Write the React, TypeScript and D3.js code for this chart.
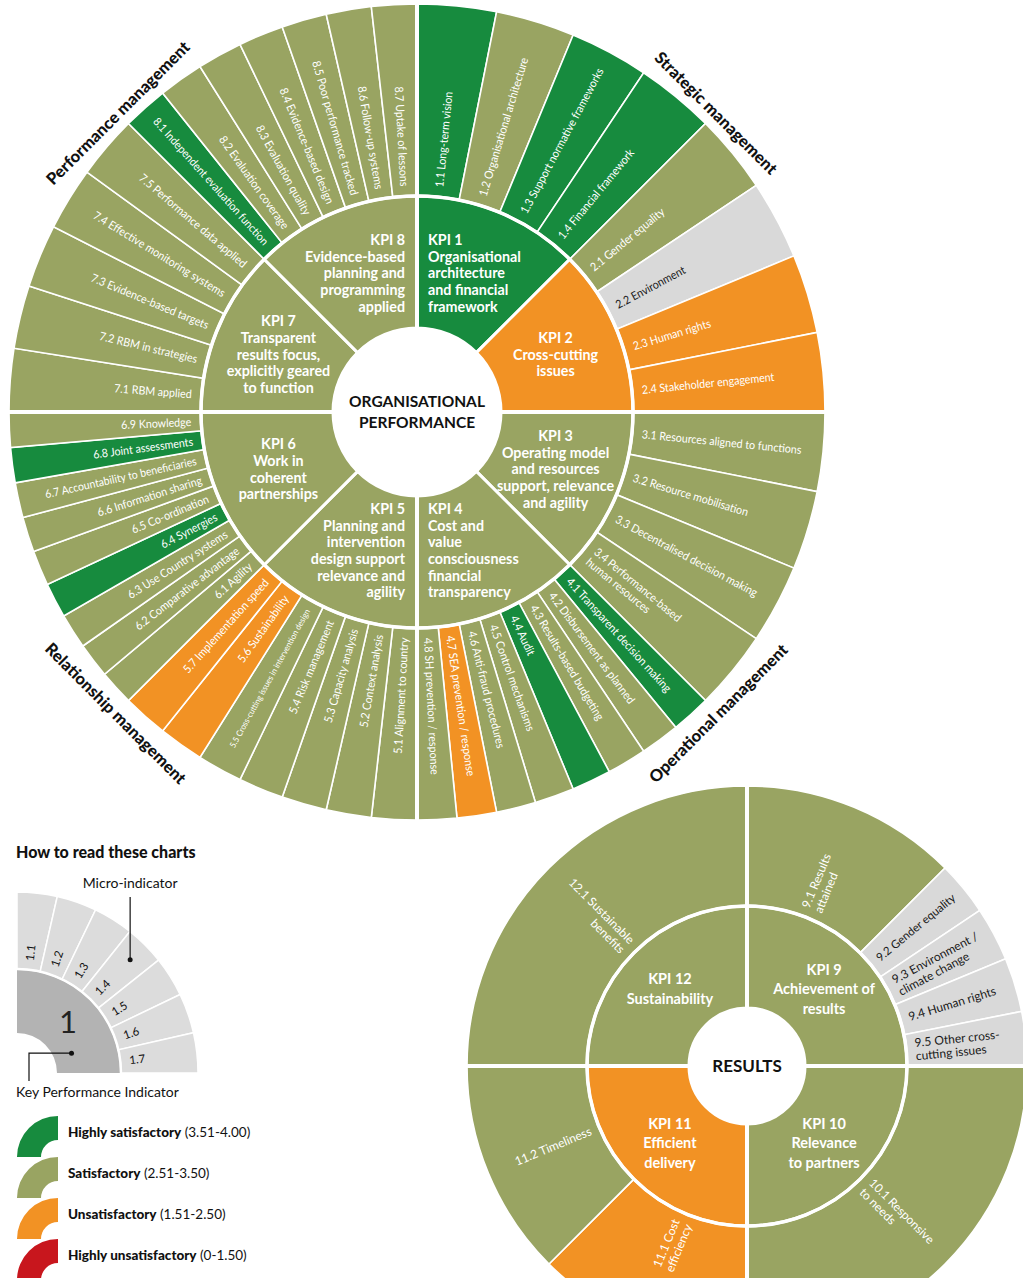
import React from 'react';
import * as d3 from 'd3';

// rating -> fill colour
const COLOR: Record<string, string> = {
  hs: '#178b3e',
  s: '#99a462',
  u: '#f29224',
  hu: '#c8161d',
  na: '#d9d9d9',
};

// ---- Organisational performance ----
const orgKpiIds = ['KPI 1', 'KPI 2', 'KPI 3', 'KPI 4', 'KPI 5', 'KPI 6', 'KPI 7', 'KPI 8'];
const orgKpiTitles = [
  ['Organisational', 'architecture', 'and financial', 'framework'],
  ['Cross-cutting', 'issues'],
  ['Operating model', 'and resources', 'support, relevance', 'and agility'],
  ['Cost and', 'value', 'consciousness', 'financial', 'transparency'],
  ['Planning and', 'intervention', 'design support', 'relevance and', 'agility'],
  ['Work in', 'coherent', 'partnerships'],
  ['Transparent', 'results focus,', 'explicitly geared', 'to function'],
  ['Evidence-based', 'planning and', 'programming', 'applied'],
];
const orgKpiRatings = ['hs', 'u', 's', 's', 's', 's', 's', 's'];
const orgMicroLabels = [
  ['1.1 Long-term vision', '1.2 Organisational architecture', '1.3 Support normative frameworks', '1.4 Financial framework'],
  ['2.1 Gender equality', '2.2 Environment', '2.3 Human rights', '2.4 Stakeholder engagement'],
  ['3.1 Resources aligned to functions', '3.2 Resource mobilisation', '3.3 Decentralised decision making', '3.4 Performance-based\nhuman resources'],
  ['4.1 Transparent decision making', '4.2 Disbursement as planned', '4.3 Results-based budgeting', '4.4 Audit',
    '4.5 Control mechanisms', '4.6 Anti-fraud procedures', '4.7 SEA prevention / response', '4.8 SH prevention / response'],
  ['5.1 Alignment to country', '5.2 Context analysis', '5.3 Capacity analysis', '5.4 Risk management',
    '5.5 Cross-cutting issues in intervention design', '5.6 Sustainability', '5.7 Implementation speed'],
  ['6.1 Agility', '6.2 Comparative advantage', '6.3 Use Country systems', '6.4 Synergies', '6.5 Co-ordination',
    '6.6 Information sharing', '6.7 Accountability to beneficiaries', '6.8 Joint assessments', '6.9 Knowledge'],
  ['7.1 RBM applied', '7.2 RBM in strategies', '7.3 Evidence-based targets', '7.4 Effective monitoring systems', '7.5 Performance data applied'],
  ['8.1 Independent evaluation function', '8.2 Evaluation coverage', '8.3 Evaluation quality', '8.4 Evidence-based design',
    '8.5 Poor performance tracked', '8.6 Follow-up systems', '8.7 Uptake of lessons'],
];
const orgMicroRatings = [
  ['hs', 's', 'hs', 'hs'],
  ['s', 'na', 'u', 'u'],
  ['s', 's', 's', 's'],
  ['hs', 's', 's', 'hs', 's', 's', 'u', 's'],
  ['s', 's', 's', 's', 's', 'u', 'u'],
  ['s', 's', 's', 'hs', 's', 's', 's', 'hs', 's'],
  ['s', 's', 's', 's', 's'],
  ['hs', 's', 's', 's', 's', 's', 's'],
];
const orgMicroWeights = orgMicroLabels.map(l => l.map(() => 1));
const orgAreas = ['Strategic management', 'Operational management', 'Relationship management', 'Performance management'];

// ---- Results ----
const resKpiIds = ['KPI 9', 'KPI 10', 'KPI 11', 'KPI 12'];
const resKpiTitles = [['Achievement of', 'results'], ['Relevance', 'to partners'], ['Efficient', 'delivery'], ['Sustainability']];
const resKpiRatings = ['s', 's', 'u', 's'];
const resMicroLabels = [
  ['9.1 Results\nattained', '9.2 Gender equality', '9.3 Environment /\nclimate change', '9.4 Human rights', '9.5 Other cross-\ncutting issues'],
  ['10.1 Responsive\nto needs'],
  ['11.1 Cost\nefficiency', '11.2 Timeliness'],
  ['12.1 Sustainable\nbenefits'],
];
const resMicroRatings = [['s', 'na', 'na', 'na', 'na'], ['s'], ['u', 's'], ['s']];
const resMicroWeights = [[4, 1, 1, 1, 1], [1], [1, 1], [1]];

// ---- Legend ----
const legendMicros = ['1.1', '1.2', '1.3', '1.4', '1.5', '1.6', '1.7'];
const legendNames = ['Highly satisfactory', 'Satisfactory', 'Unsatisfactory', 'Highly unsatisfactory'];
const legendRanges = ['(3.51-4.00)', '(2.51-3.50)', '(1.51-2.50)', '(0-1.50)'];
const legendRatings = ['hs', 's', 'u', 'hu'];

const FONT = "Lato, 'Open Sans', sans-serif";

const polar = (cx: number, cy: number, a: number, r: number): [number, number] =>
  [cx + r * Math.sin(a), cy - r * Math.cos(a)];

function Sunburst(p: any) {
  const { cx, cy, r0, r1, r2 } = p;
  const kpis = d3.pie<number>().sort(null).value(() => 1)(p.kpiIds.map(() => 1));
  const kpiArc = d3.arc<any>().innerRadius(r0).outerRadius(r1);
  const microArc = d3.arc<any>().innerRadius(r1).outerRadius(r2);
  const micros = kpis.map((k, i) =>
    d3.pie<number>().sort(null).value(d => d).startAngle(k.startAngle).endAngle(k.endAngle)(p.microWeights[i]));
  const pad = p.microPad;

  return (
    <g fontFamily={FONT}>
      <g transform={`translate(${cx},${cy})`}>
        {micros.map((ms, i) => ms.map((m, j) => (
          <path key={`m${i}-${j}`} d={microArc(m) as string} fill={COLOR[p.microRatings[i][j]]} stroke="#fff" strokeWidth={1.6} />
        )))}
        {kpis.map((k, i) => (
          <path key={`k${i}`} d={kpiArc(k) as string} fill={COLOR[p.kpiRatings[i]]} stroke="#fff" strokeWidth={3} />
        ))}
        <circle r={r1} fill="none" stroke="#fff" strokeWidth={3.5} />
      </g>
      {[0, 1, 2, 3].map(q => {
        const a = (q * Math.PI) / 2;
        const [x1, y1] = polar(cx, cy, a, r0);
        const [x2, y2] = polar(cx, cy, a, r2 + 2);
        return <line key={`q${q}`} x1={x1} y1={y1} x2={x2} y2={y2} stroke="#fff" strokeWidth={4} />;
      })}
      <circle cx={cx} cy={cy} r={r0} fill="#fff" />

      {/* micro-indicator labels */}
      {micros.map((ms, i) => ms.map((m, j) => {
        const lines: string[] = p.microLabels[i][j].split('\n');
        const mid = (m.startAngle + m.endAngle) / 2;
        const deg = (mid * 180) / Math.PI;
        const right = deg < 180;
        const [x, y] = polar(cx, cy, mid, r1 + pad);
        const rot = right ? deg - 90 : deg - 270;
        const maxChars = d3.max(lines, l => l.length) as number;
        const avail = r2 - r1 - 2 * pad;
        const est = maxChars * p.microFont * 0.47 * p.microScale;
        const fs = est > avail ? (p.microFont * avail) / est : p.microFont;
        return (
          <text key={`ml${i}-${j}`} transform={`translate(${x},${y}) rotate(${rot}) scale(${p.microScale},1)`}
            textAnchor={right ? 'start' : 'end'} fontSize={fs}
            fill={p.microRatings[i][j] === 'na' ? '#1a1a1a' : '#fff'}>
            {lines.map((l, li) => (
              <tspan key={li} x={0} y={(li - (lines.length - 1) / 2) * fs * 1.12} dy="0.35em">{l}</tspan>
            ))}
          </text>
        );
      }))}

      {/* KPI labels */}
      {kpis.map((k, i) => {
        const [ox, oy] = kpiArc.centroid(k);
        const mx = cx + ox;
        const my = cy + oy;
        const lines = [p.kpiIds[i], ...p.kpiTitles[i]];
        const deg = ((k.startAngle + k.endAngle) / 2) * 180 / Math.PI;
        let anchor = 'middle';
        let x = mx;
        if (p.alignToAxis && (deg < 45 || (deg > 135 && deg < 180))) { anchor = 'start'; x = cx + 11; }
        if (p.alignToAxis && (deg > 315 || (deg > 180 && deg < 225))) { anchor = 'end'; x = cx - 12; }
        return (
          <text key={`kl${i}`} textAnchor={anchor} fontSize={p.kpiFont} fontWeight="bold" fill="#fff">
            {lines.map((l, li) => (
              <tspan key={li} x={x} y={my + (li - (lines.length - 1) / 2) * p.kpiLine} dy="0.35em">{l}</tspan>
            ))}
          </text>
        );
      })}

      {/* centre */}
      <text textAnchor="middle" fontSize={p.centerFont} fontWeight="bold" fill="#111">
        {p.center.map((l: string, li: number) => (
          <tspan key={li} x={cx} y={cy + (li - (p.center.length - 1) / 2) * p.centerFont * 1.3} dy="0.35em">{l}</tspan>
        ))}
      </text>

      {/* management areas */}
      {(p.areas || []).map((name: string, i: number) => {
        const a = ((i + 0.5) * Math.PI) / 2;
        const deg = (a * 180) / Math.PI;
        const top = deg < 90 || deg > 270;
        const [x, y] = polar(cx, cy, a, top ? r2 + 9 : r2 + 24);
        return (
          <text key={`a${i}`} transform={`translate(${x},${y}) rotate(${top ? deg : deg - 180})`}
            textAnchor="middle" fontSize={16.5} fontWeight={900} fill="#111">{name}</text>
        );
      })}
    </g>
  );
}

function Legend() {
  const cx = 17, cy = 1073, r0 = 40, r1 = 104, r2 = 181;
  const kpiArc = d3.arc<any>().innerRadius(r0).outerRadius(r1);
  const microArc = d3.arc<any>().innerRadius(r1).outerRadius(r2);
  const quarter = { startAngle: 0, endAngle: Math.PI / 2 };
  const micros = d3.pie<number>().sort(null).value(() => 1).startAngle(0).endAngle(Math.PI / 2)(legendMicros.map(() => 1));
  const [kx, ky] = kpiArc.centroid(quarter);
  const [dx1, dy1] = polar(cx, cy, Math.PI / 4, 160);
  const [dx2, dy2] = polar(cx, cy, (70 * Math.PI) / 180, 58);
  const icon = d3.arc<any>().innerRadius(17).outerRadius(41).startAngle(-Math.PI / 2).endAngle(0);

  return (
    <g fontFamily={FONT} fill="#111">
      <text x={16} y={858} fontSize={16} fontWeight={900}>How to read these charts</text>
      <path d={kpiArc(quarter) as string} transform={`translate(${cx},${cy})`} fill="#b3b3b3" />
      {micros.map((m, i) => (
        <path key={i} d={microArc(m) as string} transform={`translate(${cx},${cy})`} fill="#dcdcdc" stroke="#fff" strokeWidth={1.5} />
      ))}
      <path d={d3.arc()({ innerRadius: r1, outerRadius: r1, ...quarter }) as string} transform={`translate(${cx},${cy})`}
        fill="none" stroke="#fff" strokeWidth={2.5} />
      {micros.map((m, i) => {
        const mid = (m.startAngle + m.endAngle) / 2;
        const [x, y] = polar(cx, cy, mid, r1 + 9);
        return (
          <text key={`t${i}`} transform={`translate(${x},${y}) rotate(${(mid * 180) / Math.PI - 90})`} fontSize={11.5} dy="0.35em">
            {legendMicros[i]}
          </text>
        );
      })}
      <text x={cx + kx} y={cy + ky} fontSize={31} textAnchor="middle" dy="0.35em" fill="#222">1</text>
      <text x={dx1} y={888} fontSize={14} textAnchor="middle">Micro-indicator</text>
      <line x1={dx1} y1={897} x2={dx1} y2={dy1} stroke="#111" strokeWidth={1.2} />
      <circle cx={dx1} cy={dy1} r={2.5} />
      <path d={`M${dx2},${dy2}H29V1081`} fill="none" stroke="#111" strokeWidth={1.2} />
      <circle cx={dx2} cy={dy2} r={2.5} />
      <text x={16} y={1097} fontSize={14}>Key Performance Indicator</text>

      {legendNames.map((name, i) => {
        const iy = 1157 + i * 41;
        return (
          <g key={name}>
            <path d={icon(null as any) as string} transform={`translate(58,${iy})`} fill={COLOR[legendRatings[i]]} />
            <text x={68} y={iy - 20} fontSize={13.5}>
              <tspan fontWeight={900}>{name}</tspan>
              <tspan> {legendRanges[i]}</tspan>
            </text>
          </g>
        );
      })}
    </g>
  );
}

export default function App() {
  return (
    <svg width={1023} height={1278} style={{ position: 'absolute', left: 0, top: 0, display: 'block', background: '#fff' }}>
      <Sunburst cx={417} cy={412} r0={84} r1={216} r2={408}
        kpiIds={orgKpiIds} kpiTitles={orgKpiTitles} kpiRatings={orgKpiRatings}
        microLabels={orgMicroLabels} microRatings={orgMicroRatings} microWeights={orgMicroWeights}
        kpiFont={14.3} kpiLine={16.7} microFont={11.6} microScale={0.92} microPad={10}
        alignToAxis center={['ORGANISATIONAL', 'PERFORMANCE']} centerFont={15.5} areas={orgAreas} />
      <Sunburst cx={747} cy={1066} r0={58} r1={160} r2={280}
        kpiIds={resKpiIds} kpiTitles={resKpiTitles} kpiRatings={resKpiRatings}
        microLabels={resMicroLabels} microRatings={resMicroRatings} microWeights={resMicroWeights}
        kpiFont={14.5} kpiLine={19.5} microFont={12} microScale={1} microPad={9}
        alignToAxis={false} center={['RESULTS']} centerFont={17} />
      <Legend />
    </svg>
  );
}
